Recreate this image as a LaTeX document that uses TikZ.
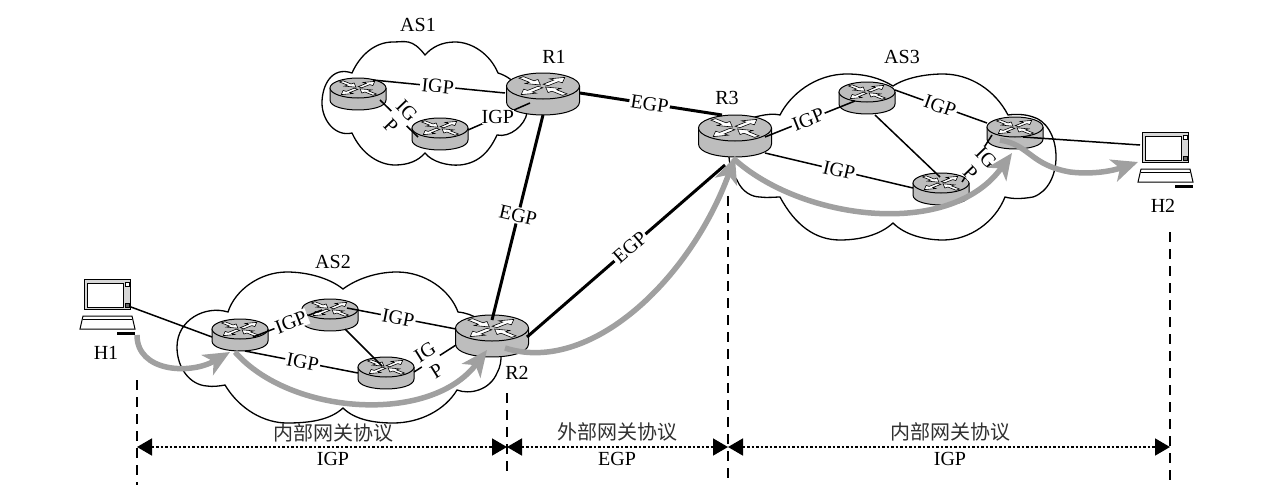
\documentclass[tikz,border=0pt]{standalone}
\usepackage{fontspec}
\setmainfont{Liberation Serif}
\newfontfamily\cjk{Noto Sans CJK SC}
\usetikzlibrary{arrows.meta,calc}
\definecolor{routergray}{HTML}{BDBDBD}
\definecolor{streamgray}{HTML}{A0A0A0}
\definecolor{cjkgray}{HTML}{303030}
\tikzset{
  txt/.style={font=\fontsize{20}{22}\selectfont,inner sep=0pt},
  cjktxt/.style={font=\fontsize{20}{22}\selectfont\cjk,text=cjkgray,inner sep=0pt},
  lnk/.style={line width=1.5pt,black},
  egplnk/.style={line width=3pt,black},
  lbl/.style={txt,fill=white,inner sep=1.5pt},
  sl/.style={lbl,sloped},
  cloudline/.style={line width=1.3pt,black,line join=miter},
  stream/.style={line width=5.5pt,streamgray,-{Stealth[length=26pt,width=23pt,inset=7pt]}},
  guide/.style={line width=1.8pt,black,dash pattern=on 10pt off 7pt},
  span/.style={line width=1.6pt,black,dash pattern=on 2.5pt off 2pt,{Triangle[length=15pt,width=17pt]}-{Triangle[length=15pt,width=17pt]}},
  smallrouter/.style={inner sep=0pt,minimum width=56pt,minimum height=20pt},
  bigrouter/.style={inner sep=0pt,minimum width=73pt,minimum height=26pt},
  hostbox/.style={inner sep=0pt,minimum width=46pt,minimum height=30pt},
  pics/routershape/.style args={#1/#2/#3}{code={
    % #1 half width, #2 half height of the top face, #3 body depth
    \draw[line width=1pt,fill=routergray] (-#1,0) -- (-#1,#3)
      .. controls (-#1,#3+1.33*#2) and (#1,#3+1.33*#2) .. (#1,#3) -- (#1,0);
    \draw[line width=1pt,fill=routergray] (0,0) ellipse [x radius=#1,y radius=#2];
    \begin{scope}[xscale=#1/28,yscale=#2/28]
      \foreach \ang/\ib in {48/1,132/0,228/1,312/0}{
        \begin{scope}[rotate=\ang]
          \ifnum\ib=1
            \draw[fill=white,line width=.6pt] (3,-2.4) -- (15,-2.4) -- (15,-6.5) -- (25,0) -- (15,6.5) -- (15,2.4) -- (3,2.4) -- cycle;
          \else
            \draw[fill=white,line width=.6pt] (25,-2.4) -- (13,-2.4) -- (13,-6.5) -- (3,0) -- (13,6.5) -- (13,2.4) -- (25,2.4) -- cycle;
          \fi
        \end{scope}
      }
    \end{scope}
  }},
  pics/hostshape/.style={code={
    \draw[line width=1pt,fill=routergray!60] (-23,-15) rectangle (23,15);
    \draw[line width=1pt,fill=white] (-20,-11) rectangle (16,13);
    \draw[line width=.6pt,fill=white] (18,-12) rectangle (22,-8);
    \draw[line width=.6pt,fill=black!60] (18,9) rectangle (22,13);
    \draw[line width=1pt,fill=white] (-24,22) -- (25,22) -- (28,35) -- (-27,35) -- cycle;
    \draw[line width=1pt] (-24,25) -- (25,25);
    \draw[line width=3pt] (10,39) -- (28,39);
  }}
}
\begin{document}
\begin{tikzpicture}[x=1pt,y=-1pt,line cap=butt]
\useasboundingbox (0,0) rectangle (1272,490);

% autonomous system clouds
\draw[cloudline] (425,55) .. controls (412,38) and (405,42) .. (393,42)
  .. controls (375,42) and (360,55) .. (352,73)
  .. controls (332,66) and (322,85) .. (322,103)
  .. controls (322,120) and (335,137) .. (352,133)
  .. controls (362,155) and (380,165) .. (395,165)
  .. controls (408,165) and (418,161) .. (425,153)
  .. controls (432,162) and (448,166) .. (460,165)
  .. controls (480,163) and (490,150) .. (497,135)
  .. controls (510,138) and (525,125) .. (527,113)
  .. controls (527,95) and (515,78) .. (498,73)
  .. controls (490,54) and (472,42) .. (455,42)
  .. controls (442,42) and (432,47) .. cycle;
\draw[cloudline] (343,289) .. controls (328,277) and (305,272) .. (287,272)
  .. controls (260,272) and (235,290) .. (228,312)
  .. controls (205,305) and (177,320) .. (177,347)
  .. controls (177,368) and (190,385) .. (207,386)
  .. controls (212,387) and (220,386) .. (225,385)
  .. controls (240,410) and (265,423) .. (287,423)
  .. controls (310,423) and (330,420) .. (343,408)
  .. controls (355,420) and (375,423) .. (393,423)
  .. controls (420,423) and (445,410) .. (457,390)
  .. controls (470,395) and (490,390) .. (497,373)
  .. controls (510,350) and (490,315) .. (458,312)
  .. controls (450,290) and (425,272) .. (397,272)
  .. controls (375,272) and (355,280) .. cycle;
\draw[cloudline] (893,86) .. controls (880,78) and (865,74) .. (847,74)
  .. controls (815,74) and (790,95) .. (780,115)
  .. controls (772,113) and (760,115) .. (745,120)
  .. controls (725,130) and (725,165) .. (737,180)
  .. controls (742,192) and (752,197) .. (760,197)
  .. controls (768,198) and (775,197) .. (780,197)
  .. controls (795,225) and (815,240) .. (840,240)
  .. controls (860,240) and (880,235) .. (893,223)
  .. controls (905,235) and (925,240) .. (943,240)
  .. controls (970,240) and (995,222) .. (1005,197)
  .. controls (1012,199) and (1022,199) .. (1033,197)
  .. controls (1048,192) and (1056,175) .. (1056,157)
  .. controls (1056,135) and (1045,120) .. (1033,117)
  .. controls (1025,114) and (1015,114) .. (1008,115)
  .. controls (995,90) and (970,74) .. (943,74)
  .. controls (925,74) and (905,78) .. cycle;

% routers
\node[smallrouter] (a1) at (358,88) {};
\node[smallrouter] (b1) at (440,128) {};
\node[bigrouter] (r1) at (543,86) {};
\node[smallrouter] (a2) at (240,329) {};
\node[smallrouter] (b2) at (330,309) {};
\node[smallrouter] (c2) at (386,367) {};
\node[bigrouter] (r2) at (492,328) {};
\node[bigrouter] (r3) at (735,128) {};
\node[smallrouter] (d3) at (867,92) {};
\node[smallrouter] (e3) at (941,183) {};
\node[smallrouter] (f3) at (1015,127) {};
\foreach \nm in {a1,b1,a2,b2,c2,d3,e3,f3} \pic at (\nm) {routershape={28/10/12}};
\foreach \nm in {r1,r2,r3} \pic at (\nm) {routershape={36.5/13/16}};

% hosts
\node[hostbox] (h1) at (107,294) {};
\node[hostbox] (h2) at (1165,147) {};
\pic at (h1) {hostshape};
\pic at (h2) {hostshape};

% links inside each autonomous system
\draw[lnk] ($(a1)+(15,-8)$) -- node[sl,pos=.49] {IGP} ($(r1)+(-38,7)$);
\draw[lnk] ($(a1)+(22,12)$) -- node[lbl,pos=.5,rotate=-46,align=center,inner sep=0pt] {IG\\P} ($(b1)+(-22,9)$);
\draw[lnk] ($(b1)+(28,2)$) -- node[lbl,pos=.48,inner sep=0pt] {IGP} ($(r1)+(-13,17)$);
\draw[lnk] ($(h1)+(24,13)$) -- ($(a2)+(-28,8)$);
\draw[lnk] ($(a2)+(13,8)$) -- node[sl,pos=.55] {IGP} ($(b2)+(-8,1)$);
\draw[lnk] ($(b2)+(17,-1)$) -- node[sl,pos=.47] {IGP} ($(r2)+(-36,1)$);
\draw[lnk] ($(a2)+(5,22)$) -- node[sl,pos=.51] {IGP} ($(c2)+(-28,6)$);
\draw[lnk] ($(b2)+(15,20)$) -- ($(c2)+(-4,-1)$);
\draw[lnk] ($(c2)+(28,5)$) -- node[lbl,pos=.4,rotate=32,align=center,inner sep=0pt] {IG\\P} ($(r2)+(-36,17)$);
\draw[lnk] ($(r3)+(30,9)$) -- node[sl,pos=.48] {IGP} ($(d3)+(-12,9)$);
\draw[lnk] ($(d3)+(28,-2)$) -- node[sl,pos=.49] {IGP} ($(f3)+(-28,-4)$);
\draw[lnk] ($(r3)+(30,25)$) -- node[sl,pos=.5] {IGP} ($(e3)+(-28,5)$);
\draw[lnk] ($(d3)+(8,23)$) -- ($(e3)+(-1,-6)$);
\draw[lnk] ($(e3)+(21,-1)$) -- node[lbl,pos=.5,rotate=-46,align=center,inner sep=0pt,xshift=6pt,yshift=-4pt] {IG\\P} ($(f3)+(-23,8)$);
\draw[lnk] ($(f3)+(8,10)$) -- ($(h2)+(-25,-2)$);

% links between autonomous systems
\draw[egplnk] ($(r1)+(37,7)$) -- node[sl,pos=.49] {EGP} ($(r3)+(-13,-13)$);
\draw[egplnk] ($(r1)+(0,29)$) -- node[lbl,pos=.49,rotate=-13] {EGP} ($(r2)+(0,-8)$);
\draw[egplnk] ($(r2)+(35,9)$) -- node[sl,pos=.52] {EGP} ($(r3)+(-10,37)$);

% packet route from H1 to H2
\draw[stream] ($(h1)+(30,41)$) .. controls +(0,37) and ($(a2)+(-50,46)$) .. ($(a2)+(-10,23)$);
\draw[stream] ($(a2)+(-5,23)$) .. controls +(55,63) and ($(r2)+(-62,97)$) .. ($(r2)+(-5,22)$);
\draw[stream] ($(r2)+(13,20)$) .. controls +(85,27) and ($(r3)+(-45,152)$) .. ($(r3)+(0,29)$);
\draw[stream] ($(r3)+(-2,30)$) .. controls +(67,62) and ($(f3)+(-65,113)$) .. ($(f3)+(-3,26)$);
\draw[stream] ($(f3)+(-15,13)$) .. controls +(30,5) and ($(f3)+(15,38)$) .. ($(f3)+(55,45)$)
  .. controls +(25,3) and ($(h2)+(-50,23)$) .. ($(h2)+(-27,15)$);

% protocol range guides
\coordinate (g1t) at (137,380); \coordinate (g1b) at (137,485);
\coordinate (g2t) at (507,393); \coordinate (g2b) at (507,476);
\coordinate (g3t) at (728,196); \coordinate (g3b) at (728,482);
\coordinate (g4t) at (1170,232); \coordinate (g4b) at (1170,482);
\draw[guide] (g1t) -- (g1b);
\draw[guide] (g2t) -- (g2b);
\draw[guide] (g3t) -- (g3b);
\draw[guide] (g4t) -- (g4b);
\coordinate (s1) at (137,447); \coordinate (s2) at (507,447);
\coordinate (s3) at (728,447); \coordinate (s4) at (1170,447);
\draw[span] (s1) -- (s2);
\draw[span] (s2) -- (s3);
\draw[span] (s3) -- (s4);

% names
\node[txt] (nas1) at (418,25) {AS1};
\node[txt] (nr1) at (554,57) {R1};
\node[txt] (nas2) at (333,262) {AS2};
\node[txt] (nh1) at (106,353) {H1};
\node[txt] (nr2) at (517,373) {R2};
\node[txt] (nr3) at (727,98) {R3};
\node[txt] (nas3) at (902,57) {AS3};
\node[txt] (nh2) at (1163,206) {H2};
\node[cjktxt] (p1) at (333,433) {内部网关协议};
\node[txt] (q1) at (333,459) {IGP};
\node[cjktxt] (p2) at (617,432) {外部网关协议};
\node[txt] (q2) at (617,459) {EGP};
\node[cjktxt] (p3) at (950,432) {内部网关协议};
\node[txt] (q3) at (950,459) {IGP};
\end{tikzpicture}
\end{document}
